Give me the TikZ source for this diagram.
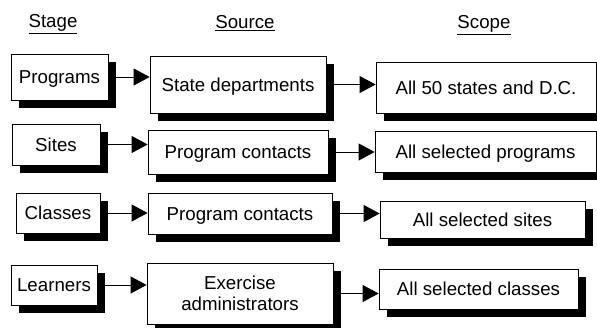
\documentclass[tikz,border=0pt]{standalone}
\usepackage{fontspec}
\setmainfont{Liberation Sans}
\usetikzlibrary{shadows, arrows.meta}
\tikzset{
    box/.style = {
        draw,
        fill        = white,
        line width  = 0.8pt,
        inner sep   = 0pt,
        align       = center,
        text height = 14.5pt,
        text depth  = 1.5pt,
        drop shadow = {shadow xshift=8pt, shadow yshift=-8pt, opacity=1, fill=black},
    },
    link/.style = {
        line width = 0.8pt,
        -{Triangle[length=16pt, width=17pt]},
    },
    heading/.style = {
        inner sep = 0pt,
    },
}

\begin{document}
\begin{tikzpicture}[x=1pt, y=-1pt, every node/.style = {font=\fontsize{18.7}{21}\selectfont}]
        \useasboundingbox (0,0) rectangle (597,327);

        \node (hstage)  [heading] at (53, 24)  {\underline{Stage}};
        \node (hsource) [heading] at (245, 23) {\underline{Source}};
        \node (hscope)  [heading] at (484, 25) {\underline{Scope}};

        % programs
        \node (stage1) [box, minimum width=97pt,  minimum height=46pt] at (59.5, 77)  {Programs};
        \node (src1)   [box, minimum width=176pt, minimum height=57pt] at (238, 84.5)  {State departments};
        \node (scope1) [box, minimum width=220pt, minimum height=51pt] at (486, 87.5)  {All 50 states and D.C.};

        % sites
        \node (stage2) [box, minimum width=88pt,  minimum height=41pt] at (56, 144.5)  {Sites};
        \node (src2)   [box, minimum width=180pt, minimum height=44pt] at (238, 152)   {Program contacts};
        \node (scope2) [box, minimum width=221pt, minimum height=41pt] at (485.5, 151.5) {All selected programs};

        % classes
        \node (stage3) [box, minimum width=84pt,  minimum height=40pt] at (58, 213)    {Classes};
        \node (src3)   [box, minimum width=184pt, minimum height=41pt] at (240, 213.5) {Program contacts};
        \node (scope3) [box, minimum width=205pt, minimum height=37pt] at (482.5, 219.5) {All selected sites};

        % learners
        \node (stage4) [box, minimum width=86pt,  minimum height=40pt] at (54, 285)    {Learners};
        \node (src4)   [box, minimum width=186pt, minimum height=61pt, text height=, text depth=] at (240, 293.5) {Exercise\\administrators};
        \node (scope4) [box, minimum width=199pt, minimum height=40pt] at (478.5, 289) {All selected classes};

        \draw [link] (stage1.east) -- (stage1.east -| src1.west);
        \draw [link] (src1.east) -- (src1.east -| scope1.west);
        \draw [link] (stage2.east) -- (stage2.east -| src2.west);
        \draw [link] (src2.east) -- (src2.east -| scope2.west);
        \draw [link] (stage3.east) -- (stage3.east -| src3.west);
        \draw [link] (src3.east) -- (src3.east -| scope3.west);
        \draw [link] (stage4.east) -- (stage4.east -| src4.west);
        \draw [link] (src4.east) -- (src4.east -| scope4.west);

    \end{tikzpicture}
\end{document}
